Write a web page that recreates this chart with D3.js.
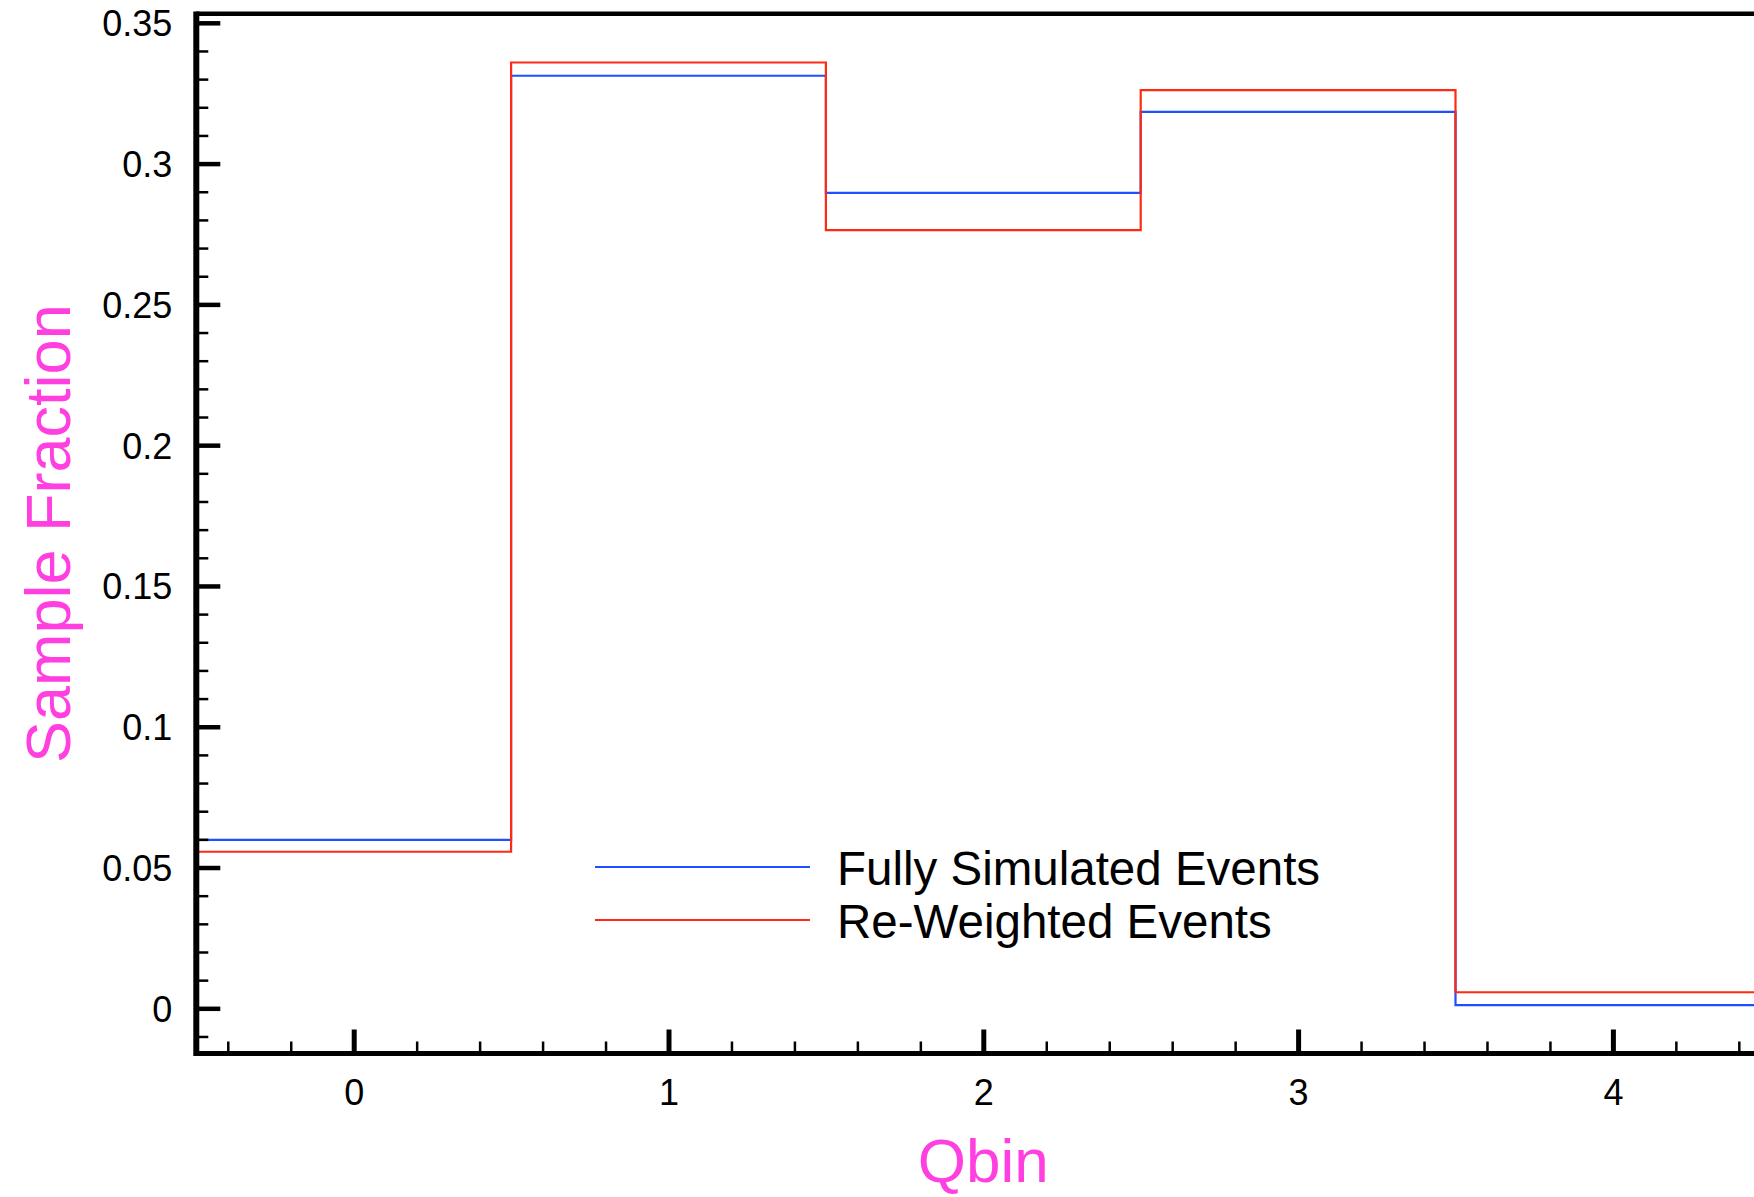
<!DOCTYPE html>
<html>
<head>
<meta charset="utf-8">
<script src="https://cdn.jsdelivr.net/npm/d3@7"></script>
<style>
  body { margin: 0; background: #fff; }
  svg { display: block; font-family: "Liberation Sans", Arial, sans-serif; }
</style>
</head>
<body>
<script>
// bin centers and edges of the Qbin histogram
var binCenters = [0, 1, 2, 3, 4];
var binEdges = [-0.5, 0.5, 1.5, 2.5, 3.5, 4.5];

// sample fractions
var fullySimulated = [0.0598, 0.3312, 0.2896, 0.3184, 0.0011];
var reWeighted = [0.0556, 0.3359, 0.2764, 0.3261, 0.0057];

var seriesNames = ["Fully Simulated Events", "Re-Weighted Events"];

var yMajorTicks = [0, 0.05, 0.1, 0.15, 0.2, 0.25, 0.3, 0.35];
var yMinorTicks = [-0.01, 0.01, 0.02, 0.03, 0.04, 0.06, 0.07, 0.08, 0.09, 0.11, 0.12, 0.13, 0.14,
                   0.16, 0.17, 0.18, 0.19, 0.21, 0.22, 0.23, 0.24, 0.26, 0.27, 0.28, 0.29,
                   0.31, 0.32, 0.33, 0.34];
var xMajorTicks = [0, 1, 2, 3, 4];
var xMinorTicks = [-0.4, -0.2, 0.2, 0.4, 0.6, 0.8, 1.2, 1.4, 1.6, 1.8, 2.2, 2.4, 2.6, 2.8,
                   3.2, 3.4, 3.6, 3.8, 4.2, 4.4];

var W = 1754, H = 1197;
var magenta = "#ff3fe0";
var blue = "#1f4fff", red = "#ff2a12";

// plot frame (right part runs past the picture edge)
var pLeft = 196.3, pRight = 1770.3, pTop = 13.8, pBottom = 1053.5;

var x = d3.scaleLinear().domain([-0.5, 4.5]).range([pLeft, pRight]);
var y = d3.scaleLinear().domain([-0.01605, 0.3532]).range([pBottom, pTop]);

var svg = d3.select("body").append("svg")
  .attr("width", W)
  .attr("height", H);

// step outline from bin values
function stepPoints(vals) {
  var pts = [];
  vals.forEach(function(v, i) {
    pts.push([binEdges[i], v]);
    pts.push([binEdges[i + 1], v]);
  });
  return pts;
}

var line = d3.line()
  .x(function(d) { return x(d[0]); })
  .y(function(d) { return y(d[1]); });

svg.append("path")
  .attr("d", line(stepPoints(fullySimulated)))
  .attr("fill", "none")
  .attr("stroke", blue)
  .attr("stroke-width", 2.2);

svg.append("path")
  .attr("d", line(stepPoints(reWeighted)))
  .attr("fill", "none")
  .attr("stroke", red)
  .attr("stroke-width", 2.2);

// y axis: major + minor ticks, drawn inward
var yMajor = svg.append("g")
  .attr("transform", "translate(" + pLeft + ",0)")
  .call(d3.axisLeft(y).tickValues(yMajorTicks).tickSize(-24).tickPadding(24)
    .tickFormat(d3.format("~g")));
var yMinor = svg.append("g")
  .attr("transform", "translate(" + pLeft + ",0)")
  .call(d3.axisLeft(y).tickValues(yMinorTicks).tickSize(-12).tickFormat(""));

// x axis
var xMajor = svg.append("g")
  .attr("transform", "translate(0," + pBottom + ")")
  .call(d3.axisBottom(x).tickValues(xMajorTicks).tickSize(-24).tickPadding(26)
    .tickFormat(d3.format("d")));
var xMinor = svg.append("g")
  .attr("transform", "translate(0," + pBottom + ")")
  .call(d3.axisBottom(x).tickValues(xMinorTicks).tickSize(-12).tickFormat(""));

[yMajor, yMinor, xMajor, xMinor].forEach(function(g) {
  g.select(".domain").remove();
  g.attr("font-family", null).attr("font-size", null);
  g.selectAll("text").attr("font-size", 36).attr("fill", "#000");
});
yMajor.selectAll("line").attr("stroke-width", 4.5);
xMajor.selectAll("line").attr("stroke-width", 5);
yMinor.selectAll("line").attr("stroke-width", 2.5);
xMinor.selectAll("line").attr("stroke-width", 2.5);
yMajor.selectAll("text").attr("dy", "0.36em");

// frame lines
svg.append("line").attr("x1", pLeft).attr("x2", W).attr("y1", pTop).attr("y2", pTop)
  .attr("stroke", "#000").attr("stroke-width", 4.5);
svg.append("line").attr("x1", pLeft).attr("x2", W).attr("y1", pBottom).attr("y2", pBottom)
  .attr("stroke", "#000").attr("stroke-width", 5);
svg.append("line").attr("x1", pLeft).attr("x2", pLeft).attr("y1", pTop - 2.2).attr("y2", pBottom + 2.5)
  .attr("stroke", "#000").attr("stroke-width", 6);

// axis titles
svg.append("text")
  .attr("x", x(2)).attr("y", 1182)
  .attr("text-anchor", "middle")
  .attr("font-size", 62)
  .attr("fill", magenta)
  .text("Qbin");

svg.append("text")
  .attr("transform", "translate(70," + (pTop + pBottom) / 2 + ") rotate(-90)")
  .attr("text-anchor", "middle")
  .attr("font-size", 63)
  .attr("fill", magenta)
  .text("Sample Fraction");

// legend
var legend = svg.append("g");
var legendColors = [blue, red];
seriesNames.forEach(function(name, i) {
  var ly = 867 + i * 53;
  legend.append("line")
    .attr("x1", 595).attr("x2", 810).attr("y1", ly).attr("y2", ly)
    .attr("stroke", legendColors[i]).attr("stroke-width", 2.2);
  legend.append("text")
    .attr("x", 837).attr("y", ly + 18)
    .attr("font-size", 47.5)
    .attr("fill", "#000")
    .text(name);
});
</script>
</body>
</html>
